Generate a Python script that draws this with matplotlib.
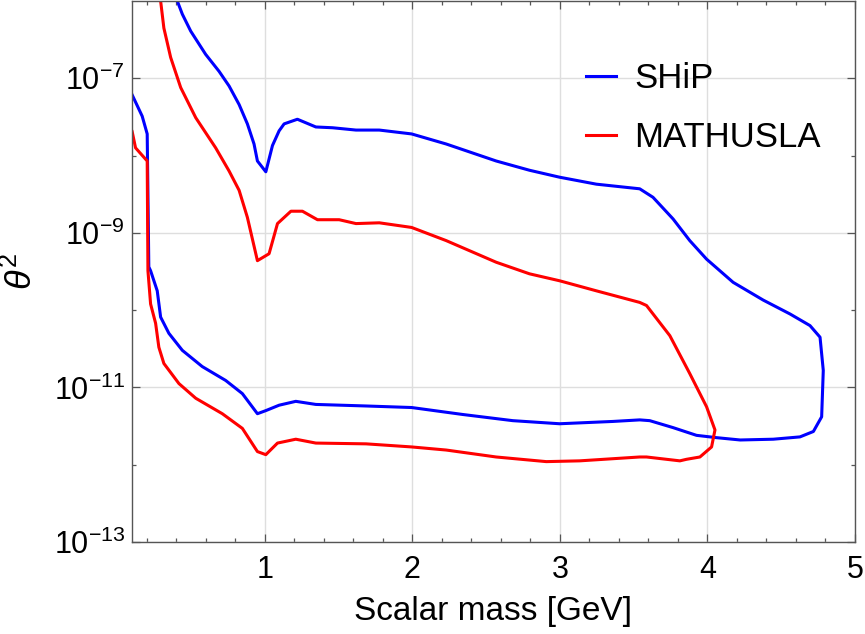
import matplotlib
matplotlib.use('Agg')
import matplotlib.pyplot as plt
import numpy as np
from matplotlib.ticker import FixedLocator, FixedFormatter, NullFormatter

# fonts
plt.rcParams['font.family'] = ['Liberation Sans', 'DejaVu Sans']
plt.rcParams['mathtext.fontset'] = 'custom'
plt.rcParams['mathtext.rm'] = 'Liberation Sans'
plt.rcParams['mathtext.it'] = 'Liberation Sans:italic'

# colours
COLOR_SHIP = '#0000ff'
COLOR_MATH = '#ff0000'

# SHiP contour: scalar mass [GeV] and log10(theta^2), traced around the closed curve
ship_mass = [0.09, 0.10, 0.169, 0.203, 0.214, 0.226, 0.271, 0.294, 0.350, 0.441, 0.576, 0.735,
             0.848, 0.950, 1.007, 1.097, 1.210, 1.346, 1.686, 1.995, 2.341, 2.681, 2.998, 3.360,
             3.541, 3.609, 3.767, 3.926, 4.062, 4.222, 4.446, 4.627, 4.718, 4.774, 4.785, 4.763,
             4.695, 4.560, 4.378, 4.174, 3.994, 3.880, 3.767, 3.631, 3.541, 3.247, 2.998, 2.794,
             2.568, 2.229, 1.995, 1.776, 1.618, 1.459, 1.346, 1.221, 1.131, 1.097, 1.052, 1.007,
             0.950, 0.927, 0.882, 0.826, 0.758, 0.690, 0.599, 0.498, 0.441, 0.407, 0.39]
ship_log_theta2 = [-7.17, -7.21, -7.49, -7.72, -9.44, -9.49, -9.75, -10.09, -10.30, -10.52, -10.73, -10.91,
                   -11.08, -11.34, -11.30, -11.23, -11.18, -11.22, -11.24, -11.26, -11.35, -11.43, -11.47, -11.44,
                   -11.42, -11.43, -11.52, -11.62, -11.65, -11.68, -11.67, -11.64, -11.57, -11.38, -10.78, -10.35,
                   -10.20, -10.05, -9.87, -9.64, -9.34, -9.10, -8.82, -8.54, -8.43, -8.37, -8.28, -8.19,
                   -8.07, -7.85, -7.72, -7.67, -7.67, -7.64, -7.63, -7.53, -7.59, -7.68, -7.87, -8.21,
                   -8.07, -7.85, -7.59, -7.34, -7.10, -6.91, -6.69, -6.39, -6.17, -6.00, -5.90]

# MATHUSLA contour
math_mass = [0.09, 0.10, 0.124, 0.203, 0.208, 0.226, 0.260, 0.282, 0.316, 0.418, 0.532, 0.712,
             0.848, 0.950, 1.007, 1.086, 1.210, 1.346, 1.686, 1.995, 2.229, 2.568, 2.908, 3.134,
             3.541, 3.587, 3.813, 3.858, 3.949, 4.028, 4.051, 3.994, 3.880, 3.745, 3.587, 3.541,
             3.247, 2.998, 2.794, 2.568, 2.229, 1.995, 1.776, 1.618, 1.504, 1.357, 1.255, 1.177,
             1.086, 1.029, 0.950, 0.882, 0.826, 0.758, 0.667, 0.532, 0.430, 0.362, 0.316, 0.294, 0.285]
math_log_theta2 = [-7.66, -7.68, -7.90, -8.07, -9.49, -9.92, -10.17, -10.48, -10.69, -10.95, -11.14, -11.34,
                   -11.53, -11.83, -11.87, -11.72, -11.67, -11.72, -11.73, -11.77, -11.81, -11.90, -11.96, -11.95,
                   -11.90, -11.90, -11.95, -11.93, -11.90, -11.77, -11.55, -11.25, -10.82, -10.33, -9.94, -9.90,
                   -9.75, -9.62, -9.53, -9.38, -9.10, -8.93, -8.87, -8.88, -8.83, -8.83, -8.72, -8.72,
                   -8.88, -9.27, -9.36, -8.80, -8.45, -8.20, -7.90, -7.51, -7.12, -6.73, -6.35, -6.00, -5.85]

y_major = [1e-7, 1e-9, 1e-11, 1e-13]
y_major_labels = [r'$10^{-7}$', r'$10^{-9}$', r'$10^{-11}$', r'$10^{-13}$']
y_minor = [1e-8, 1e-10, 1e-12]
x_major = [1, 2, 3, 4, 5]
x_minor = [0.2, 0.4, 0.6, 0.8, 1.2, 1.4, 1.6, 1.8, 2.2, 2.4, 2.6, 2.8,
           3.2, 3.4, 3.6, 3.8, 4.2, 4.4, 4.6, 4.8]

fig = plt.figure(figsize=(8.65, 6.34), dpi=100)
ax = fig.add_axes([132 / 865, 92 / 634, 723 / 865, 541 / 634])

ax.plot(ship_mass, np.power(10.0, ship_log_theta2), color=COLOR_SHIP, lw=2.2,
        solid_joinstyle='round', label='SHiP')
ax.plot(math_mass, np.power(10.0, math_log_theta2), color=COLOR_MATH, lw=2.2,
        solid_joinstyle='round', label='MATHUSLA')

ax.set_yscale('log')
ax.set_xlim(0.1, 5)
ax.set_ylim(1e-13, 1e-6)

ax.xaxis.set_major_locator(FixedLocator(x_major))
ax.xaxis.set_minor_locator(FixedLocator(x_minor))
ax.yaxis.set_major_locator(FixedLocator(y_major))
ax.yaxis.set_major_formatter(FixedFormatter(y_major_labels))
ax.yaxis.set_minor_locator(FixedLocator(y_minor))
ax.yaxis.set_minor_formatter(NullFormatter())

ax.tick_params(which='both', direction='in', top=True, right=True, color='#555555', width=0.9)
ax.tick_params(which='major', length=6, labelsize=22)
ax.tick_params(which='minor', length=3)
ax.tick_params(axis='x', which='major', pad=9)
ax.tick_params(axis='y', which='major', pad=5)
for s in ax.spines.values():
    s.set_color('#555555')
    s.set_linewidth(1.0)

ax.grid(True, which='major', color='#dedede', lw=1.0)
ax.set_axisbelow(True)

ax.set_xlabel('Scalar mass [GeV]', fontsize=24, labelpad=8)
ax.set_ylabel(r'$\theta^2$', fontsize=26, labelpad=10)

ax.legend(loc='upper left', bbox_to_anchor=(586 / 865, 1 - 62 / 634), bbox_transform=fig.transFigure,
          frameon=False, fontsize=25, handlelength=0.85, handletextpad=0.55, labelspacing=0.74,
          borderpad=0, borderaxespad=0)

plt.savefig('out.png', dpi=100)
